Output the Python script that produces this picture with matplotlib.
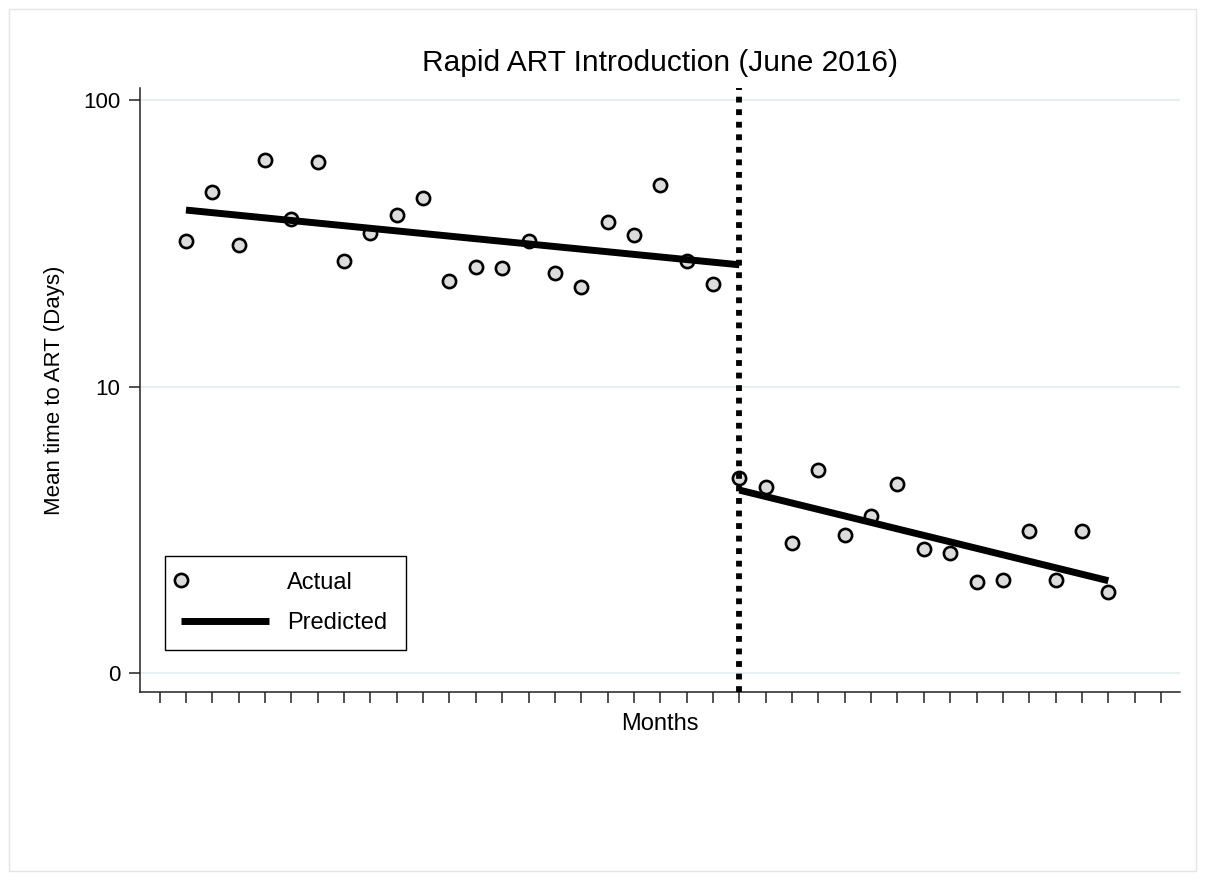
import numpy as np
import matplotlib
matplotlib.use('Agg')
import matplotlib.pyplot as plt
from matplotlib.lines import Line2D
from matplotlib.legend_handler import HandlerLine2D
from matplotlib.patches import Rectangle

plt.rcParams['font.family'] = ['Liberation Sans', 'DejaVu Sans']

# months (index), intervention at month 22 (June 2016)
months_pre = np.arange(1, 22)
actual_pre = [32.2, 47.6, 31.3, 61.6, 38.3, 60.9, 27.5, 34.4, 39.7, 45.5, 23.4,
              26.2, 25.9, 32.2, 25.0, 22.3, 37.6, 33.9, 50.5, 27.4, 22.8]
months_post = np.arange(22, 37)
actual_post = [4.81, 4.45, 2.84, 5.11, 3.04, 3.54, 4.56, 2.71, 2.62, 2.08,
               2.12, 3.13, 2.12, 3.13, 1.92]

# fitted segments (straight on the log axis)
pred_pre_x = [1, 22]
pred_pre = [41.3, 26.6]
pred_post_x = [22, 36]
pred_post = [4.35, 2.10]

intervention = 22
month_ticks = np.arange(0, 39)
ytick_vals = [1, 10, 100]
ytick_labels = ['0', '10', '100']


class HandlerLeft(HandlerLine2D):
    # put the legend marker at the left end of the key
    def create_artists(self, *args, **kwargs):
        arts = super().create_artists(*args, **kwargs)
        for a in arts:
            a.set_markevery([0])
        return arts


fig = plt.figure(figsize=(12.05, 8.8), dpi=100)
ax = fig.add_axes([140/1205, 1 - 692/880, 1040/1205, 604/880])

# light outer frame of the graph region
fig.patches.append(Rectangle((9/1205, 9/880), 1187/1205, 862/880, transform=fig.transFigure,
                             fill=False, edgecolor='#e4e4e4', lw=1))

mstyle = dict(marker='o', ms=9.5, mfc='#dcdcdc', mec='black', mew=1.9, ls='none', zorder=3)
ax.plot(months_pre, actual_pre, **mstyle)
ax.plot(months_post, actual_post, **mstyle)

ax.plot(pred_pre_x, pred_pre, color='black', lw=5, solid_capstyle='butt', zorder=4)
ax.plot(pred_post_x, pred_post, color='black', lw=5, solid_capstyle='butt', zorder=4)

ax.axvline(intervention, color='black', lw=4.2, ls=(0, (1, 1.15)), zorder=5)

ax.set_yscale('log')
ax.set_ylim(10**-0.0663, 10**2.042)
ax.set_yticks(ytick_vals)
ax.set_yticklabels(ytick_labels)
ax.yaxis.set_minor_locator(matplotlib.ticker.NullLocator())
ax.set_xlim(-0.744, 38.72)
ax.set_xticks(month_ticks)
ax.set_xticklabels([])

ax.grid(axis='y', color='#e6eff1', lw=1.5)
ax.set_axisbelow(True)

for s in ['top', 'right']:
    ax.spines[s].set_visible(False)
for s in ['left', 'bottom']:
    ax.spines[s].set_linewidth(1.1)
    ax.spines[s].set_color('#222222')
ax.tick_params(axis='both', direction='out', length=8, width=1.1, color='#222222',
               labelsize=16, pad=6)

ax.set_title('Rapid ART Introduction (June 2016)', fontsize=21.5, pad=12)
ax.set_ylabel('Mean time to ART (Days)', fontsize=16, labelpad=13)
ax.set_xlabel('Months', fontsize=17, labelpad=1)

h_actual = Line2D([], [], **{k: v for k, v in mstyle.items() if k != 'zorder'})
h_pred = Line2D([], [], color='black', lw=5, solid_capstyle='butt')
leg = ax.legend([h_actual, h_pred], ['Actual', 'Predicted'], loc='lower left',
                bbox_to_anchor=(0.024, 0.0695, 241/1040, 0.1), mode='expand',
                borderaxespad=0, fontsize=17,
                frameon=True, fancybox=False, edgecolor='black', framealpha=1,
                handlelength=3.75, handletextpad=0.76, labelspacing=0.8,
                borderpad=0.66, numpoints=1,
                handler_map={h_actual: HandlerLeft()})
leg.get_frame().set_linewidth(1.0)

plt.savefig('out.png', dpi=100)
